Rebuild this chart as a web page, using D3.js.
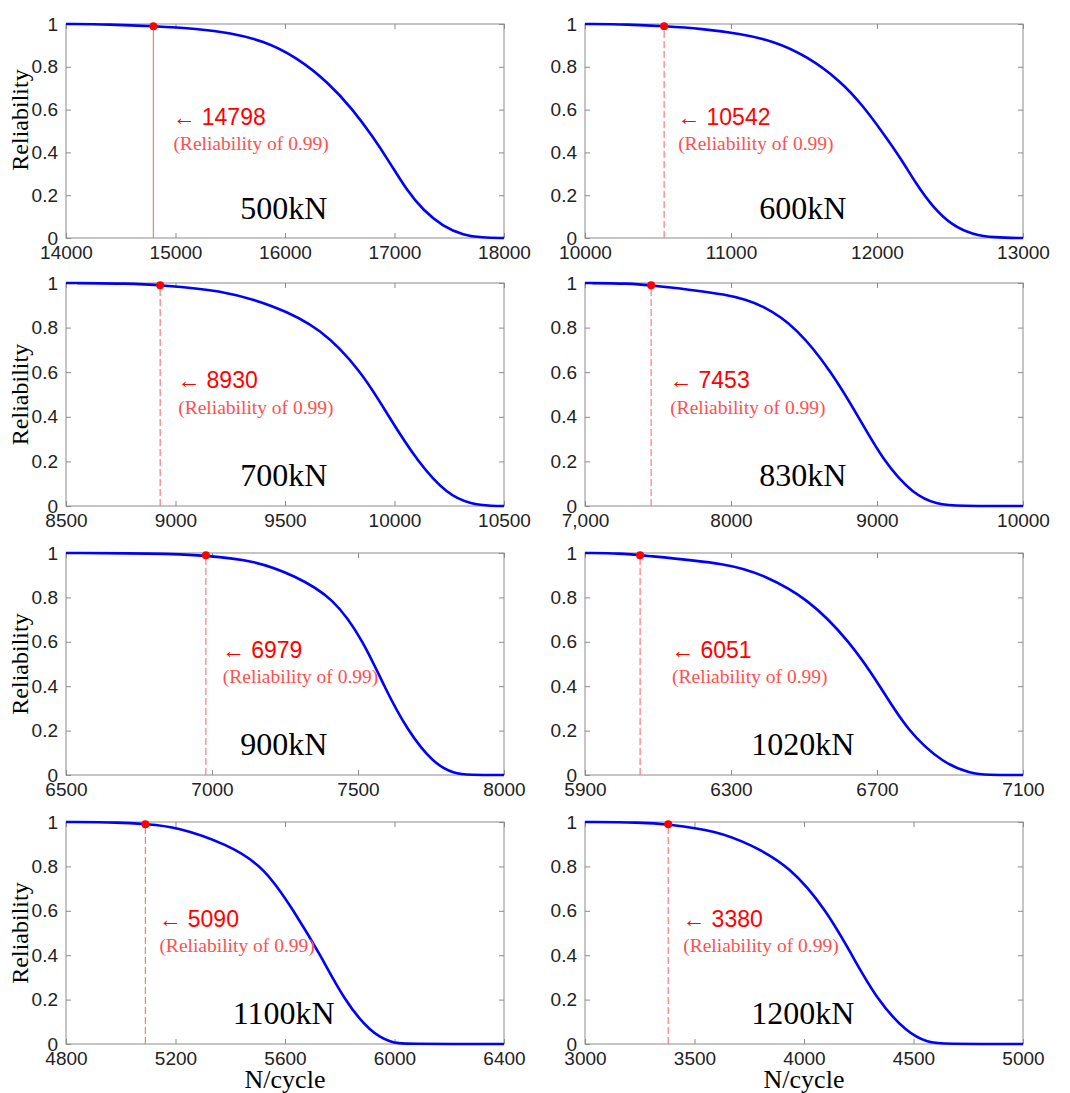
<!DOCTYPE html>
<meta charset="utf-8">
<style>
    body { margin: 0; background: #fff; }
    .tick text { font: 19px "Liberation Sans", Arial, sans-serif; fill: #222; }
    .frame { fill: none; stroke: #8c8c8c; stroke-width: 1; }
    .curve { fill: none; stroke: #0000ff; stroke-width: 2.6px; }
    .ylab, .xlab, .load { font-family: "Liberation Serif", "Times New Roman", serif; fill: #000; }
</style>
<body>
<script src="https://d3js.org/d3.v7.min.js"></script>
<script>

// load cases and the N at reliability 0.99
const loads = ["500kN", "600kN", "700kN", "830kN", "900kN", "1020kN", "1100kN", "1200kN"];
const n99 = [14798, 10542, 8930, 7453, 6979, 6051, 5090, 3380];

// x axis ranges and ticks
const xDomains = [[14000, 18000], [10000, 13000], [8500, 10500], [7000, 10000],
                  [6500, 8000], [5900, 7100], [4800, 6400], [3000, 5000]];
const xTicks = [
    [14000, 15000, 16000, 17000, 18000],
    [10000, 11000, 12000, 13000],
    [8500, 9000, 9500, 10000, 10500],
    [7000, 8000, 9000, 10000],
    [6500, 7000, 7500, 8000],
    [5900, 6300, 6700, 7100],
    [4800, 5200, 5600, 6000, 6400],
    [3000, 3500, 4000, 4500, 5000]
];
const xTickLabels = [
    ["14000", "15000", "16000", "17000", "18000"],
    ["10000", "11000", "12000", "13000"],
    ["8500", "9000", "9500", "10000", "10500"],
    ["7,000", "8000", "9000", "10000"],
    ["6500", "7000", "7500", "8000"],
    ["5900", "6300", "6700", "7100"],
    ["4800", "5200", "5600", "6000", "6400"],
    ["3000", "3500", "4000", "4500", "5000"]
];
const yTicks = [0, 0.2, 0.4, 0.6, 0.8, 1];
const yTickLabels = ["0", "0.2", "0.4", "0.6", "0.8", "1"];

// reliability curves: [N, R]
const r500 = [[14000, 1], [14400, 0.998], [14798, 0.99], [15200, 0.978], [15500, 0.959], [15800, 0.922],
              [16100, 0.847], [16400, 0.725], [16620, 0.6], [16800, 0.475], [16960, 0.35], [17110, 0.225],
              [17260, 0.13], [17445, 0.053], [17630, 0.013], [17800, 0.002], [18000, 0]];
const r600 = [[10000, 1], [10300, 0.998], [10542, 0.99], [10800, 0.978], [11060, 0.955], [11290, 0.921],
              [11520, 0.85], [11750, 0.734], [11905, 0.617], [12040, 0.492], [12160, 0.375], [12270, 0.251],
              [12385, 0.142], [12520, 0.056], [12660, 0.016], [12800, 0.002], [13000, 0]];
const r700 = [[8500, 1], [8800, 0.998], [8930, 0.99], [9200, 0.97], [9449, 0.9], [9662, 0.8],
              [9853, 0.6], [9974, 0.4], [10104, 0.2], [10241, 0.05], [10350, 0.008], [10450, 0], [10500, 0]];
const r830 = [[7000, 1], [7300, 0.998], [7453, 0.99], [8000, 0.95], [8222, 0.9], [8451, 0.8],
              [8691, 0.6], [8873, 0.4], [9045, 0.2], [9250, 0.05], [9420, 0.006], [9550, 0], [10000, 0]];
const r900 = [[6500, 1], [6800, 0.998], [6979, 0.99], [7150, 0.965], [7280, 0.9], [7417, 0.8],
              [7520, 0.6], [7589, 0.4], [7669, 0.2], [7760, 0.05], [7830, 0.006], [7880, 0], [8000, 0]];
const r1020 = [[5900, 1], [6000, 0.998], [6051, 0.99], [6300, 0.952], [6389, 0.9], [6508, 0.8],
               [6627, 0.6], [6709, 0.4], [6782, 0.2], [6883, 0.05], [6960, 0.006], [7000, 0], [7100, 0]];
const r1100 = [[4800, 1], [5000, 0.998], [5090, 0.99], [5200, 0.98], [5389, 0.9], [5523, 0.8],
               [5632, 0.6], [5730, 0.4], [5815, 0.2], [5913, 0.05], [5990, 0.006], [6030, 0], [6400, 0]];
const r1200 = [[3000, 1], [3250, 0.998], [3380, 0.99], [3600, 0.96], [3754, 0.9], [3937, 0.8],
               [4104, 0.6], [4219, 0.4], [4333, 0.2], [4470, 0.05], [4570, 0.006], [4630, 0], [5000, 0]];
const curves = [r500, r600, r700, r830, r900, r1020, r1100, r1200];

// layout
const width = 1070, height = 1093;
const cols = [[66, 504], [585, 1023]];
const rows = [[24, 238], [283, 506], [553, 775], [822, 1044]];
// annotation x offset from the 0.99 line, px
const noteDx = [19, 13, 17, 18, 16, 31, 13, 14];

const svg = d3.select("body").append("svg")
    .attr("width", width)
    .attr("height", height);

curves.forEach((data, i) => {
    const col = i % 2, row = Math.floor(i / 2);
    const [x0, x1] = cols[col];
    const [y0, y1] = rows[row];

    const x = d3.scaleLinear().domain(xDomains[i]).range([x0, x1]);
    const y = d3.scaleLinear().domain([0, 1]).range([y1, y0]);

    const g = svg.append("g");

    // axes with inward ticks on all four sides
    const fmtX = (d, k) => xTickLabels[i][k];
    const fmtY = (d, k) => yTickLabels[k];
    g.append("g")
        .attr("transform", `translate(0,${y1})`)
        .call(d3.axisBottom(x).tickValues(xTicks[i]).tickFormat(fmtX).tickSizeInner(-5).tickSizeOuter(0).tickPadding(8))
        .call(a => a.select(".domain").remove())
        .call(a => a.selectAll("line").attr("stroke", "#8c8c8c"));
    g.append("g")
        .attr("transform", `translate(0,${y0})`)
        .call(d3.axisTop(x).tickValues(xTicks[i]).tickFormat("").tickSizeInner(-5).tickSizeOuter(0))
        .call(a => a.select(".domain").remove())
        .call(a => a.selectAll("line").attr("stroke", "#8c8c8c"));
    g.append("g")
        .attr("transform", `translate(${x0},0)`)
        .call(d3.axisLeft(y).tickValues(yTicks).tickFormat(fmtY).tickSizeInner(-5).tickSizeOuter(0).tickPadding(8))
        .call(a => a.select(".domain").remove())
        .call(a => a.selectAll("line").attr("stroke", "#8c8c8c"));
    g.append("g")
        .attr("transform", `translate(${x1},0)`)
        .call(d3.axisRight(y).tickValues(yTicks).tickFormat("").tickSizeInner(-5).tickSizeOuter(0))
        .call(a => a.select(".domain").remove())
        .call(a => a.selectAll("line").attr("stroke", "#8c8c8c"));

    g.append("rect")
        .attr("class", "frame")
        .attr("x", x0).attr("y", y0)
        .attr("width", x1 - x0).attr("height", y1 - y0);

    // 0.99 marker line
    g.append("line")
        .attr("x1", x(n99[i])).attr("x2", x(n99[i]))
        .attr("y1", y(0)).attr("y2", y(0.99))
        .attr("stroke", "#ff7a7a")
        .attr("stroke-width", 1.2)
        .attr("stroke-dasharray", i === 0 ? null : "7,3");

    // reliability curve
    g.append("path")
        .datum(data)
        .attr("class", "curve")
        .attr("d", d3.line().x(d => x(d[0])).y(d => y(d[1])).curve(d3.curveBasis));

    g.append("circle")
        .attr("cx", x(n99[i])).attr("cy", y(0.99))
        .attr("r", 4)
        .attr("fill", "#ff0000");

    // annotations
    const ax = x(n99[i]) + noteDx[i];
    g.append("text")
        .attr("x", ax).attr("y", y(0.565))
        .attr("dy", "0.35em")
        .attr("fill", "#ff0000")
        .style("font", "23px 'Liberation Sans', Arial, sans-serif")
        .text("\u2190 " + n99[i]);
    g.append("text")
        .attr("x", ax + 1).attr("y", y(0.443))
        .attr("dy", "0.35em")
        .attr("fill", "#ff5050")
        .style("font", "19.5px 'Liberation Serif', 'Times New Roman', serif")
        .text("(Reliability of 0.99)");

    g.append("text")
        .attr("class", "load")
        .attr("x", x0 + (x1 - x0) * 0.497).attr("y", y(0.14))
        .attr("dy", "0.35em")
        .attr("text-anchor", "middle")
        .style("font-size", "32px")
        .text(loads[i]);

    if (col === 0) {
        g.append("text")
            .attr("class", "ylab")
            .attr("transform", `translate(28,${(y0 + y1) / 2 - (row === 0 ? 11 : 0)}) rotate(-90)`)
            .attr("text-anchor", "middle")
            .style("font-size", "24px")
            .text("Reliability");
    }
    if (row === 3) {
        g.append("text")
            .attr("class", "xlab")
            .attr("x", (x0 + x1) / 2).attr("y", 1088)
            .attr("text-anchor", "middle")
            .style("font-size", "26px")
            .text("N/cycle");
    }
});

</script>
</body>
</html>
